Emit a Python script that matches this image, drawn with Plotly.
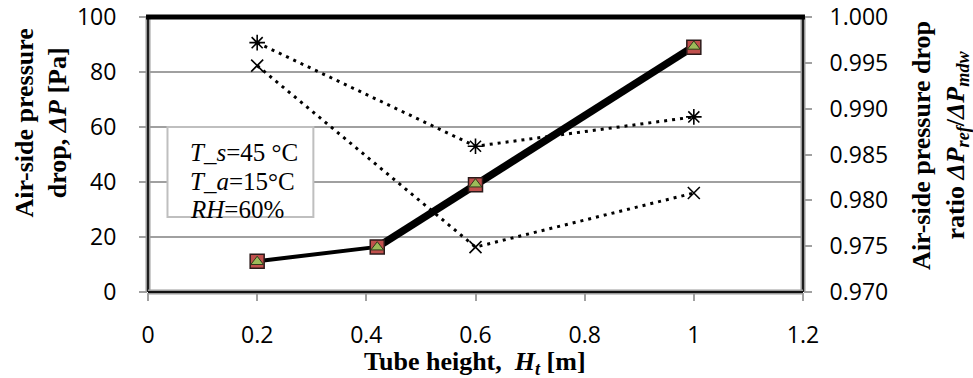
import plotly.graph_objects as go

# ---------------- data ----------------
tube_height = [0.2, 0.42, 0.6, 1.0]
dp_ref = [11.2, 16.4, 39.0, 89.0]          # left axis, squares
dp_mdw = [11.0, 16.3, 39.2, 89.3]          # left axis, triangles
ratio_a = [0.9972, 0.9859, 0.9891]         # right axis, asterisk
ratio_b = [0.9947, 0.9749, 0.9808]         # right axis, x
ratio_x = [0.2, 0.6, 1.0]

x_ticks = [0, 0.2, 0.4, 0.6, 0.8, 1.0, 1.2]
y_ticks = [0, 20, 40, 60, 80, 100]
y2_ticks = [0.970, 0.975, 0.980, 0.985, 0.990, 0.995, 1.000]

box_lines = ["<i>T_s</i>=45 °C", "<i>T_a</i>=15°C", "<i>RH</i>=60%"]

# ---------------- layout geometry ----------------
W, H = 973, 378
L, R, T, B = 147.5, 170, 17, 86
pw = W - L - R
ph = H - T - B

def px(xp):
    return (xp - L) / pw

def py(yp):
    return (H - B - yp) / ph

TICKFONT = dict(family="Open Sans", size=23, color="#000")
SERIF = "Liberation Serif"

fig = go.Figure()

dot = "3px,5px"
fig.add_trace(go.Scatter(x=ratio_x, y=ratio_a, yaxis="y2", mode="lines+markers",
                         line=dict(color="black", width=3, dash=dot),
                         marker=dict(symbol="asterisk-open", size=13, color="black",
                                     line=dict(color="black", width=1.6))))
fig.add_trace(go.Scatter(x=ratio_x, y=ratio_b, yaxis="y2", mode="lines+markers",
                         line=dict(color="black", width=3, dash=dot),
                         marker=dict(symbol="x-thin-open", size=12, color="black",
                                     line=dict(color="black", width=1.6))))
# thin line for reference series
fig.add_trace(go.Scatter(x=tube_height, y=dp_ref, mode="lines",
                         line=dict(color="black", width=4)))
# thick line of second series (drawn from second point on)
fig.add_trace(go.Scatter(x=tube_height[1:], y=dp_mdw[1:], mode="lines",
                         line=dict(color="black", width=7.5)))
fig.add_trace(go.Scatter(x=tube_height, y=dp_ref, mode="markers",
                         marker=dict(symbol="square", size=14, color="#c0504d",
                                     line=dict(color="#2b1a1a", width=1.5))))
fig.add_trace(go.Scatter(x=tube_height, y=dp_mdw, mode="markers",
                         marker=dict(symbol="triangle-up", size=11, color="#9bbb59",
                                     line=dict(color="#2e3a1a", width=1))))

fig.update_layout(
    width=W, height=H,
    margin=dict(l=L, r=R, t=T, b=B, autoexpand=False),
    paper_bgcolor="white", plot_bgcolor="white",
    showlegend=False,
    xaxis=dict(range=[0, 1.2], tickvals=x_ticks, ticks="outside", ticklen=8,
               tickwidth=1.5, tickcolor="#a0a0a0", showgrid=False, zeroline=False,
               showline=False, tickfont=TICKFONT, ticklabelstandoff=14),
    yaxis=dict(range=[0, 100], tickvals=y_ticks, ticks="outside", ticklen=8,
               tickwidth=1.5, tickcolor="#a0a0a0", showgrid=True, gridcolor="#a0a0a0",
               gridwidth=2, zeroline=False, showline=False, tickfont=TICKFONT,
               ticklabelstandoff=18),
    yaxis2=dict(range=[0.970, 1.000], tickvals=y2_ticks, tickformat=".3f",
                overlaying="y", side="right", ticks="outside", ticklen=8,
                tickwidth=1.5, tickcolor="#a0a0a0", showgrid=False, zeroline=False,
                showline=False, tickfont=TICKFONT, ticklabelstandoff=13),
)

shapes = []
# frame: gray-black-gray on left/right/bottom, thick black on top
for (x0, y0, x1, y1) in [(0, 0, 0, 1), (1, 0, 1, 1), (0, 0, 1, 0)]:
    shapes.append(dict(type="line", xref="paper", yref="paper", x0=x0, y0=y0, x1=x1, y1=y1,
                       line=dict(color="#9a9a9a", width=5), layer="above"))
    shapes.append(dict(type="line", xref="paper", yref="paper", x0=x0, y0=y0, x1=x1, y1=y1,
                       line=dict(color="#111", width=1.8), layer="above"))
shapes.append(dict(type="line", xref="paper", yref="paper", x0=-0.003, y0=1, x1=1.003, y1=1,
                   line=dict(color="black", width=5), layer="above"))
# text box
shapes.append(dict(type="rect", xref="paper", yref="paper",
                   x0=px(167), x1=px(313), y0=py(217), y1=py(127),
                   line=dict(color="#bfbfbf", width=2), fillcolor="white", layer="above"))
fig.update_layout(shapes=shapes)

ann = []
for i, (txt, yy) in enumerate(zip(box_lines, [152, 181, 209])):
    ann.append(dict(text=txt, xref="paper", yref="paper", x=px(188), y=py(yy),
                    xanchor="left", yanchor="middle", showarrow=False,
                    font=dict(family=SERIF, size=25, color="black")))
ann.append(dict(text="<b>Tube height,  <i>H</i><sub><i>t</i></sub> [m]</b>",
                xref="paper", yref="paper", x=px(475), y=py(363),
                xanchor="center", yanchor="middle", showarrow=False,
                font=dict(family=SERIF, size=26, color="black")))
ann.append(dict(text="<b>Air-side pressure<br>drop, <i>ΔP</i> [Pa]</b>",
                xref="paper", yref="paper", x=px(40), y=py(123), textangle=-90,
                xanchor="center", yanchor="middle", showarrow=False,
                font=dict(family=SERIF, size=26, color="black")))
ann.append(dict(text="<b>Air-side pressure drop<br>ratio <i>ΔP<sub>ref</sub></i>/<i>ΔP<sub>mdw</sub></i></b>",
                xref="paper", yref="paper", x=px(940), y=py(145), textangle=-90,
                xanchor="center", yanchor="middle", showarrow=False,
                font=dict(family=SERIF, size=26, color="black")))
fig.update_layout(annotations=ann)

fig.write_html("out.html")
